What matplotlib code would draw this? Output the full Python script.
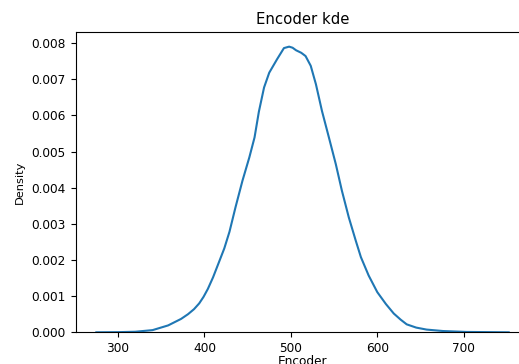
import numpy as np
import matplotlib.pyplot as plt

# KDE curve of "Encoder"
encoder = [275, 300, 320, 340, 358, 373, 381, 388, 394, 399, 404, 410, 417,
           423, 429, 436, 444, 452, 458, 463, 469, 475, 484, 492, 498, 502,
           506, 512, 517, 523, 529, 536, 544, 552, 559, 567, 575, 581, 590,
           600, 610, 619, 627, 634, 645, 657, 676, 703, 752]
density = [0.0, 0.004, 0.015, 0.06, 0.19, 0.37, 0.50, 0.64, 0.80, 0.98, 1.20,
           1.52, 1.95, 2.32, 2.78, 3.46, 4.19, 4.84, 5.39, 6.10, 6.77, 7.18,
           7.55, 7.86, 7.90, 7.87, 7.80, 7.73, 7.64, 7.37, 6.86, 6.12, 5.39,
           4.65, 3.92, 3.18, 2.54, 2.08, 1.57, 1.11, 0.78, 0.52, 0.35, 0.22,
           0.13, 0.075, 0.035, 0.01, 0.0]
density = np.array(density) / 1000.0


def main():
    fig = plt.figure(figsize=(5.19, 3.64), dpi=100)
    ax = fig.add_axes([0.1459, 0.0871, 0.874, 0.824])

    ax.plot(encoder, density, color="#1f77b4", linewidth=1.5)

    ax.set_xlim(251.15, 775.85)
    ax.set_ylim(0, density.max() * 1.05)
    ax.set_xticks([300, 400, 500, 600, 700])
    ax.set_yticks(np.arange(0, 0.0081, 0.001))
    ax.yaxis.set_major_formatter(plt.FormatStrFormatter("%.3f"))
    ax.tick_params(labelsize=8.7)

    ax.set_title("Encoder kde", fontsize=10.7)
    ax.set_xlabel("Encoder", fontsize=8.7)
    ax.set_ylabel("Density", fontsize=8.2)
    ax.xaxis.set_label_coords(0.5, -0.076)
    ax.yaxis.set_label_coords(-0.112, 0.5)

    fig.savefig("out.png", dpi=100)


if __name__ == "__main__":
    main()
